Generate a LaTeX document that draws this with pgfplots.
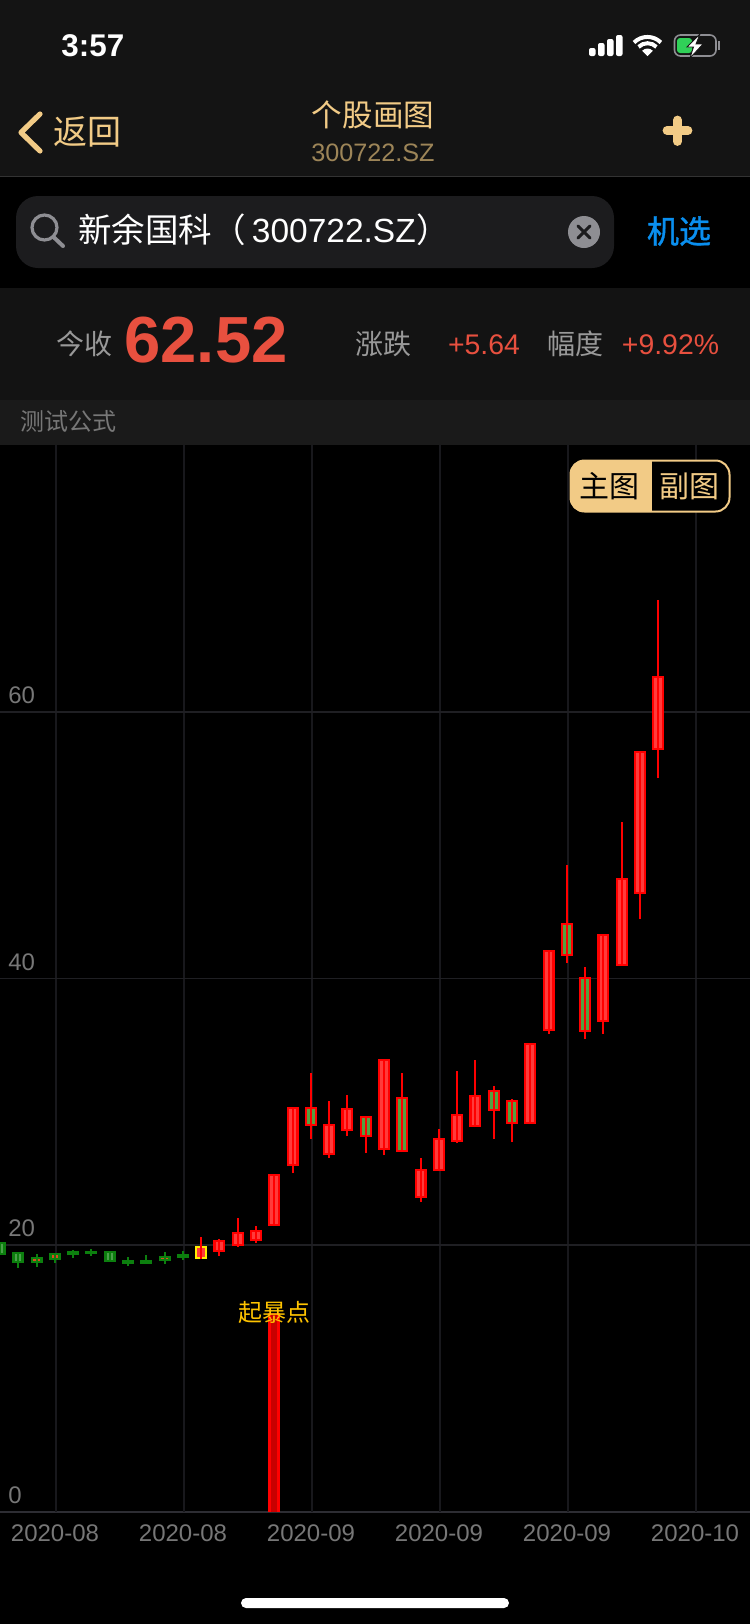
\documentclass[border=0pt]{standalone}
\usepackage{fontspec}
\usepackage{pgfplots}
\usepackage{pgfplotstable}
\pgfplotsset{compat=1.18}
\setmainfont{Liberation Sans}
\newfontfamily\cjk{Noto Sans CJK SC}
\newfontfamily\cjkb[FakeBold=1.2]{Noto Sans CJK SC}
\definecolor{hdr}{HTML}{141414}
\definecolor{rowa}{HTML}{131313}
\definecolor{rowb}{HTML}{1A1A1A}
\definecolor{box}{HTML}{1C1C1E}
\definecolor{gold}{HTML}{F2CB86}
\definecolor{goldd}{HTML}{9D8558}
\definecolor{gry}{HTML}{8E8E93}
\definecolor{lab}{HTML}{777777}
\definecolor{up}{HTML}{E8503F}
\definecolor{blu}{HTML}{0A8FEF}
\definecolor{amb}{HTML}{FFC400}
\definecolor{gridv}{HTML}{18181C}
\definecolor{gridh}{HTML}{1F1F23}
\definecolor{basel}{HTML}{2D2D33}
\definecolor{cred}{HTML}{FF0000}
\definecolor{credi}{HTML}{FF3B3B}
\definecolor{cgri}{HTML}{55A040}
\definecolor{cgrn}{HTML}{0C7F0E}
\definecolor{cgnl}{HTML}{4BA04B}
\definecolor{cora}{HTML}{E04A20}
\definecolor{cyel}{HTML}{FFEE00}
\definecolor{cdrk}{HTML}{C80000}
\definecolor{divd}{HTML}{333333}
\definecolor{gnine}{HTML}{999999}
\definecolor{batt}{HTML}{30D158}
% candle values: x bot top
\pgfplotstableread{
x bot top
12 19.48 20.38
13 19.93 20.98
14 20.29 21.13
15 21.43 25.33
16 25.93 30.36
18 26.76 29.08
19 28.56 30.29
21 27.14 33.96
23 23.53 25.71
24 25.56 28.03
25 27.73 29.83
26 28.86 31.26
29 29.08 35.16
30 36.06 42.14
33 36.74 43.34
34 40.94 47.54
35 46.34 57.07
36 57.14 62.69
}\bodyR
\pgfplotstableread{
x bot top
17 28.93 30.36
20 28.11 29.69
22 26.98 31.11
27 30.06 31.63
28 29.08 30.89
31 41.69 44.16
32 35.99 40.11
}\bodyG
\pgfplotstableread{
x bot top
0 19.26 20.23
1 18.65 19.48
2 18.65 19.11
3 18.88 19.41
4 19.23 19.56
5 19.33 19.56
6 18.73 19.56
7 18.58 18.88
8 18.58 18.88
9 18.81 19.18
10 19.03 19.33
}\bodyS
\pgfplotstableread{
x bot top
0 19.43 20.06
1 18.81 19.33
6 18.88 19.41
}\innerS
\pgfplotstableread{
x bot top
2 18.8 18.96
3 19.03 19.26
9 18.96 19.03
}\innerO
\pgfplotstableread{
x bot top
11 18.96 19.93
}\bodyY
\pgfplotstableread{
x bot top
15 0 14.9
}\bodyT
\pgfplotstableread{
x bot top
11 18.96 20.61
12 19.18 20.46
13 19.86 22.03
14 20.14 21.43
15 21.43 25.33
16 25.41 30.36
17 27.96 32.91
18 26.53 30.81
19 28.18 31.26
20 26.91 29.69
21 26.76 33.96
22 26.98 32.91
23 23.23 26.53
24 25.56 28.71
25 27.66 33.06
26 28.86 33.88
27 27.96 31.93
28 27.73 30.96
29 29.08 35.16
30 35.84 42.14
31 41.16 48.51
32 35.46 40.86
33 35.84 43.34
34 40.94 51.74
35 44.46 57.07
36 55.04 68.39
}\wickR
\pgfplotstableread{
x bot top
0 19.26 20.23
1 18.28 19.48
2 18.35 19.33
3 18.65 19.41
4 19.03 19.63
5 19.18 19.71
6 18.73 19.56
7 18.43 19.11
8 18.58 19.26
9 18.58 19.48
10 18.88 19.56
}\wickG
\pgfplotsset{
  seg/.style 2 args={draw=none, no markers, forget plot,
    error bars/.cd, y dir=plus, y explicit, error mark=none,
    error bar style={line width=#1, draw=#2, solid}},
}
\newcommand\segs[4]{% table, width(pt), colour, inset
  \addplot[seg={#2}{#3}] table[x=x, y expr=\thisrow{bot}+#4, y error expr=\thisrow{top}-\thisrow{bot}-2*#4] {#1};
}
% x y anchor size colour text
\newcommand\txt[6]{\node[anchor=#3,inner sep=0pt,text=#5,font=\fontsize{#4}{#4}\selectfont] at (#1,#2) {#6};}
\begin{document}
\begin{tikzpicture}
\useasboundingbox (0pt,0pt) rectangle (375pt,-812pt);
\begin{scope}[x=0.5pt,y=-0.5pt]
\fill[black] (0,0) rectangle (750,1624);
\fill[hdr] (0,0) rectangle (750,176);
\fill[divd] (0,176) rectangle (750,177);
\fill[rowa] (0,288) rectangle (750,400);
\fill[rowb] (0,400) rectangle (750,445);
\fill[basel] (0,1510.8) rectangle (750,1512.8);
\end{scope}
\begin{axis}[
  at={(0pt,-755.85pt)}, anchor=south west,
  scale only axis, width=375pt, height=533.2pt,
  xmin=0, xmax=41.015, ymin=0, ymax=80,
  axis line style={draw=none},
  major tick length=0pt,
  xtick={3.0625,10.0625,17.0625,24.0625,31.0625,38.0625},
  xticklabels={2020-08,2020-08,2020-09,2020-09,2020-09,2020-10},
  ytick={20,40,60},
  extra y ticks={0},
  extra y tick style={grid=none},
  xmajorgrids, ymajorgrids,
  x grid style={draw=gridv, line width=0.8pt},
  y grid style={draw=gridh, line width=0.9pt},
  /pgf/number format/assume math mode=true,
  tick label style={font=\fontsize{12}{12}\selectfont, text=lab, inner sep=0pt},
  xticklabel style={anchor=base, yshift=-15pt, xshift=-0.5pt},
  yticklabel style={anchor=base west, xshift=4pt, yshift=4.2pt},
  clip=true,
]
\segs{\bodyS}{6pt}{cgrn}{0}
\segs{\innerS}{3pt}{cgnl}{0}
\segs{\innerO}{3.2pt}{cora}{0}
\segs{\wickG}{1pt}{cgrn}{0}
\segs{\bodyY}{6pt}{cyel}{0}
\segs{\bodyY}{4.2pt}{credi}{0.15}
\segs{\bodyR}{6pt}{cred}{0}
\segs{\bodyR}{3.8pt}{credi}{0.18}
\segs{\bodyG}{6pt}{cred}{0}
\segs{\bodyG}{3.8pt}{cgri}{0.18}
\segs{\bodyT}{6pt}{cred}{0}
\segs{\bodyT}{3pt}{cdrk}{0}
\segs{\wickR}{1pt}{cred}{0}
\end{axis}
\begin{scope}[x=0.5pt,y=-0.5pt]
% label over the tall bar
\txt{274}{1312}{center}{12}{amb}{\cjk 起暴点}
% status bar
\txt{61}{46}{west}{15.7}{white}{\textbf{3:57}}
\foreach \xa/\ya in {589/48,598/43,607/39,616/35}{
  \fill[white,rounded corners=1pt] (\xa,\ya) rectangle ++(6.5,56-\ya);
}
\fill[white] (647.5,56) -- (642.2,50.7) arc[start angle=-135,end angle=-45,radius=7.5] -- cycle;
\draw[white,line width=2pt] (638.6,46.9) arc[start angle=-135,end angle=-45,radius=12.6];
\draw[white,line width=2pt] (634,42.5) arc[start angle=-135,end angle=-45,radius=19];
\draw[gry,line width=0.8pt,rounded corners=3pt] (674.5,35) rectangle (716,56);
\fill[gry] (718,41) rectangle (720,50);
\fill[batt,rounded corners=1.5pt] (677,38) rectangle (692,53);
\fill[white,draw=hdr,line width=0.4pt] (700,34) -- (687,47) -- (693.5,47) -- (690,58) -- (703,44) -- (696,44) -- cycle;
% nav
\draw[gold,line width=2.6pt,line cap=round,line join=round] (40,114) -- (21,132.5) -- (40,151);
\txt{88}{132}{center}{17}{gold}{\cjk 返回}
\txt{373}{115}{center}{15.3}{gold}{\cjk 个股画图}
\txt{373}{153}{center}{12.6}{goldd}{300722.SZ}
\draw[gold,line width=4.4pt,line cap=round] (677.5,120) -- (677.5,141.5) (667,130.5) -- (688,130.5);
% search
\fill[box,rounded corners=11pt] (16,196) rectangle (614,268);
\draw[gry,line width=1.6pt] (44.5,227.5) circle[radius=12.5];
\draw[gry,line width=2pt,line cap=round] (53.5,237) -- (63,246);
\txt{78}{230}{west}{16.75}{white}{\cjk 新余国科（\hspace{3pt}\rmfamily 300722.SZ\hspace{0.5pt}\cjk ）}
\fill[gry] (584,232) circle[radius=16];
\draw[box,line width=1.5pt,line cap=round] (578,226) -- (590,238) (590,226) -- (578,238);
\txt{679}{231}{center}{16}{blu}{\cjkb 机选}
% price row
\txt{84}{344}{center}{14}{gnine}{\cjk 今收}
\txt{124}{340}{west}{32.6}{up}{\textbf{62.52}}
\txt{383}{344}{center}{14}{gnine}{\cjk 涨跌}
\txt{484}{345}{center}{14.2}{up}{+5.64}
\txt{575}{344}{center}{14}{gnine}{\cjk 幅度}
\txt{670.5}{345}{center}{14.2}{up}{+9.92\%}
\txt{20}{421}{west}{12}{lab}{\cjk 测试公式}
% toggle
\fill[black,rounded corners=7pt] (570,460) rectangle (730,512);
\begin{scope}
\clip[rounded corners=7pt] (570,460) rectangle (730,512);
\fill[gold] (570,460) rectangle (652,512);
\end{scope}
\draw[gold,line width=1pt,rounded corners=7pt] (570.5,460.5) rectangle (729.5,511.5);
\txt{609.5}{486}{center}{15}{black}{\cjk 主图}
\txt{689.5}{486}{center}{15}{gold}{\cjk 副图}
% home indicator
\fill[white,rounded corners=2.5pt] (241,1598) rectangle (509,1608);
\end{scope}
\end{tikzpicture}
\end{document}
